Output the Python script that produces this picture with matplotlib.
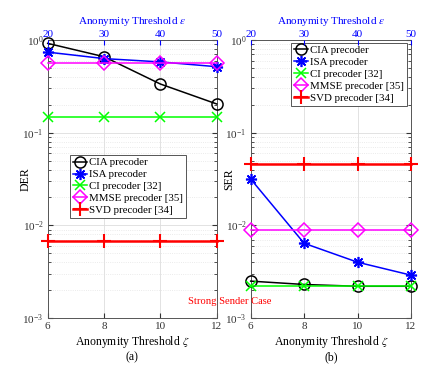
import numpy as np
import matplotlib
matplotlib.use("Agg")
import matplotlib.pyplot as plt

plt.rcParams["font.family"] = ["Liberation Serif", "DejaVu Serif"]
plt.rcParams["mathtext.fontset"] = "stix"

zeta = [6, 8, 10, 12]
eps_ticks = [20, 30, 40, 50]

# DER (a)
der_cia = [0.92, 0.66, 0.335, 0.204]
der_isa = [0.74, 0.63, 0.58, 0.515]
der_ci = [0.147, 0.147, 0.147, 0.147]
der_mmse = [0.57, 0.57, 0.57, 0.57]
der_svd = [0.0067, 0.0067, 0.0067, 0.0067]

# SER (b)
ser_cia = [0.0025, 0.0023, 0.0022, 0.0022]
ser_isa = [0.0316, 0.0064, 0.0040, 0.0029]
ser_ci = [0.0022, 0.0022, 0.0022, 0.0022]
ser_mmse = [0.0089, 0.0089, 0.0089, 0.0089]
ser_svd = [0.046, 0.046, 0.046, 0.046]

labels = ["CIA precoder", "ISA precoder", "CI precoder [32]",
          "MMSE precoder [35]", "SVD precoder [34]"]
styles = [
    dict(color="black", marker="o", mfc="none", ms=8, lw=1.1, mew=1.1),
    dict(color="blue", marker=(8, 2, 0), ms=8, lw=1.1, mew=1.2),
    dict(color="#00ff00", marker="x", ms=7, lw=1.1, mew=1.1),
    dict(color="magenta", marker="D", mfc="none", ms=7, lw=1.1, mew=1.1),
    dict(color="red", marker="+", ms=10, lw=1.8, mew=1.5),
]

fig = plt.figure(figsize=(4.43, 3.75), dpi=100)
W, H = 443, 375
ax1 = fig.add_axes([47.7 / W, 1 - 318 / H, 169 / W, 278 / H])
ax2 = fig.add_axes([250.7 / W, 1 - 318 / H, 160.3 / W, 278 / H])


def draw(ax, series, ylabel, tag, legloc, anchor, ylab_x):
    for ys, lab, st in zip(series, labels, styles):
        ax.plot(zeta, ys, label=lab, clip_on=False, zorder=3, **st)
    ax.set_yscale("log")
    ax.set_ylim(1e-3, 1)
    ax.set_xlim(6, 12)
    ax.set_xticks(zeta)
    ax.grid(True, which="major", color="#dddddd", lw=0.6)
    ax.grid(True, which="minor", axis="y", color="#e4e4e4", lw=0.6, ls=":")
    for s in ax.spines.values():
        s.set_color("#555555")
        s.set_linewidth(0.7)
    ax.tick_params(which="both", direction="in", labelsize=8, colors="#333333",
                   top=False, right=True, pad=3)
    ax.set_ylabel(ylabel, fontsize=8.5)
    ax.yaxis.set_label_coords(ylab_x, 0.5)
    ax.set_xlabel("Anonymity Threshold $\\zeta$\n" + tag,
                  fontsize=8.5, labelpad=2, linespacing=1.15)
    top = ax.twiny()
    top.set_xlim(6, 12)
    top.set_xticks(zeta)
    top.set_xticklabels([str(v) for v in eps_ticks])
    top.tick_params(direction="in", labelsize=8, colors="blue", pad=1)
    for s in top.spines.values():
        s.set_visible(False)
    top.set_xlabel("Anonymity Threshold $\\epsilon$", fontsize=8, color="blue", labelpad=4)
    leg = ax.legend(loc=legloc, bbox_to_anchor=anchor, fontsize=7.8, handlelength=1.3,
                    handletextpad=0.2, borderpad=0.25, labelspacing=0.22, fancybox=False,
                    framealpha=1, edgecolor="#555555", borderaxespad=0)
    leg.get_frame().set_linewidth(0.7)


draw(ax1, [der_cia, der_isa, der_ci, der_mmse, der_svd], "DER", "(a)",
     "lower left", (0.132, 0.36), -0.093)
draw(ax2, [ser_cia, ser_isa, ser_ci, ser_mmse, ser_svd], "SER", "(b)",
     "upper center", (0.613, 0.99), -0.098)

fig.text(230 / W, 1 - 301 / H, "Strong Sender Case", color="red", fontsize=7.6,
         ha="center", va="center")

fig.savefig("out.png", dpi=100)
